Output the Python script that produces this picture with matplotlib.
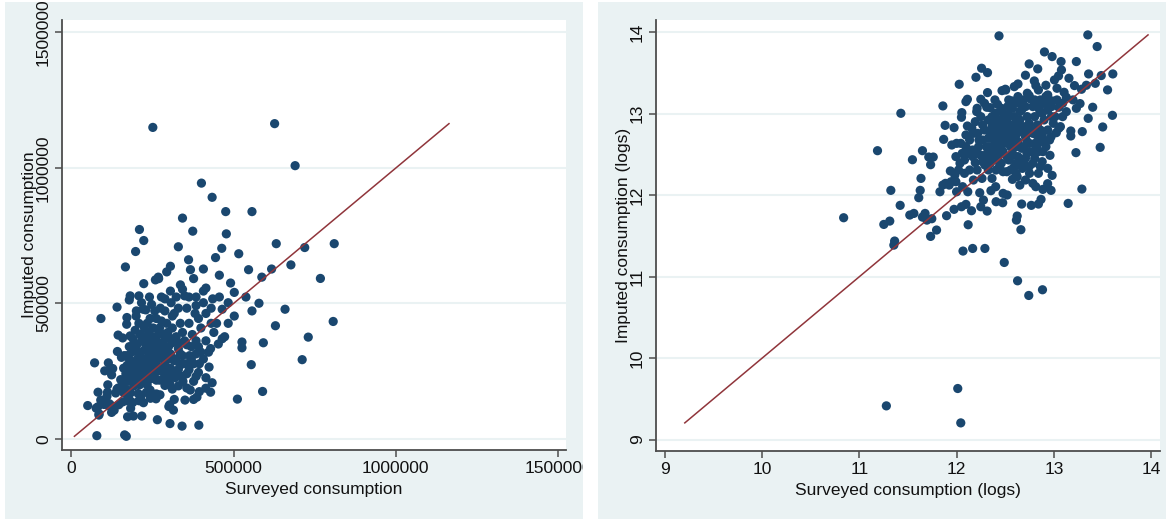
import numpy as np
import matplotlib
matplotlib.use("Agg")
import matplotlib.pyplot as plt
from matplotlib.patches import Rectangle

# ---- data (log values; left panel shows the levels) ----
log_surveyed = [
    10.838, 11.186, 11.426, 11.277, 12.011, 12.042, 12.435, 13.348, 13.444, 11.323,
    11.251, 11.312, 11.362, 11.354, 11.419, 11.545, 11.518, 11.560, 11.610, 11.625,
    11.633, 11.648, 11.648, 11.675, 11.694, 11.744, 11.713, 11.759, 11.732, 11.732,
    11.793, 11.828, 11.858, 11.881, 11.866, 11.896, 11.973, 11.973, 12.065, 12.164,
    12.290, 12.026, 12.198, 12.256, 12.317, 12.317, 12.489, 12.626, 12.741, 12.882,
    12.118, 12.095, 12.152, 12.660, 12.614, 12.622, 12.668, 12.767, 12.840, 12.867,
    13.146, 13.287, 12.970, 12.981, 12.935, 12.886, 13.226, 13.475, 13.501, 13.601,
    13.605, 13.551, 13.486, 13.425, 13.356, 13.230, 13.073, 12.981, 12.902, 12.745,
    12.833, 12.707, 12.630, 12.592, 12.500, 12.466, 12.393, 12.573, 12.745, 12.798,
    12.814, 13.077, 13.047, 13.005, 13.154, 13.211, 13.333, 13.283, 13.104, 13.031,
    12.936, 13.127, 13.196, 13.268, 13.398, 13.352, 13.291, 13.173, 13.173, 13.230,
    13.066, 13.024, 12.970, 12.959, 12.886, 12.860, 12.821, 12.779, 12.806, 12.722,
    12.691, 12.749, 12.676, 12.622, 12.573, 12.554, 12.458, 12.477, 12.405, 12.363,
    12.352, 12.405, 12.473, 12.477, 12.519, 12.313, 12.275, 12.248, 12.237, 12.260,
    12.290, 12.172, 12.114, 12.061, 12.080, 11.981, 11.992, 11.935, 11.942, 11.923,
    11.992, 12.034, 12.080, 12.118, 12.191, 12.133, 11.950, 11.999, 12.042, 12.095,
    12.110, 12.156, 12.049, 12.053, 12.095, 12.110, 12.217, 12.210, 12.309, 12.225,
    12.325, 12.244, 12.313, 12.344, 12.355, 12.420, 12.378, 12.435, 12.477, 12.535,
    12.508, 12.458, 12.439, 12.515, 12.592, 12.554, 12.603, 12.637, 12.668, 12.725,
    12.783, 12.852, 12.917, 12.974, 12.898, 12.829, 12.764, 12.707, 12.668, 12.630,
    12.573, 12.535, 12.477, 12.412, 12.393, 12.439, 12.325, 12.363, 12.248, 12.191,
    12.206, 12.523, 12.504, 12.637, 12.687, 12.764, 12.840, 12.917, 12.985, 13.050,
    13.127, 12.936, 12.879, 12.745, 12.802, 12.879, 12.955, 13.050, 12.611, 12.554,
    12.496, 12.363, 12.286, 12.267, 12.592, 12.649, 12.707, 12.783, 12.813, 12.401,
    12.325, 12.401, 12.210, 12.164, 12.164, 11.885, 11.858, 11.999, 12.049,
    12.439, 12.477, 12.401, 12.515, 12.554, 12.592, 12.649, 12.687, 12.611, 12.535,
    12.458, 12.382, 12.344, 12.305, 12.428, 12.515, 12.725, 12.783, 12.860, 12.745,
    12.802, 12.879, 12.936, 13.012, 12.993, 13.089, 12.917, 12.860, 12.707, 12.649,
    12.573, 12.458, 12.401, 12.286, 12.267, 12.229, 12.172, 12.095, 12.057, 12.019,
    12.133, 12.210, 12.267, 12.344, 12.439, 12.515, 12.611, 12.668, 12.745, 12.840,
    12.248, 12.344, 12.420, 12.535, 12.630, 12.726, 12.802, 12.860, 12.974, 13.031,
    13.089, 12.382, 12.458, 12.554, 12.630, 12.687, 12.745, 12.840, 12.917, 12.898,
    12.821, 12.707, 12.649, 12.573, 12.515, 12.477, 12.401, 12.363, 12.305, 12.554,
    12.611, 12.707, 12.783, 12.860, 12.936,
]
log_imputed = [
    11.723, 12.546, 13.005, 9.414, 9.627, 9.205, 13.955, 13.967, 13.824, 12.059,
    11.641, 11.682, 11.437, 11.387, 11.875, 12.435, 11.756, 11.776, 11.969, 12.059,
    12.206, 12.546, 11.731, 11.776, 11.694, 11.711, 12.468, 12.468, 12.374, 11.494,
    11.572, 12.042, 13.095, 12.857, 12.685, 11.748, 11.826, 12.829, 11.314, 11.346,
    11.346, 13.361, 13.447, 13.558, 13.504, 13.259, 11.174, 10.949, 10.769, 10.839,
    11.637, 11.887, 11.809, 11.576, 11.694, 11.744, 11.891, 11.875, 11.891, 11.948,
    11.899, 12.075, 12.059, 12.243, 12.141, 12.071, 12.522, 12.587, 12.837, 12.980,
    13.488, 13.292, 13.468, 13.373, 13.488, 13.640, 13.640, 13.701, 13.758, 13.611,
    13.550, 13.472, 13.365, 13.332, 13.300, 13.283, 13.169, 13.156, 13.222, 13.402,
    13.345, 13.537, 13.464, 13.414, 13.435, 13.345, 13.349, 13.300, 13.263, 13.312,
    13.230, 13.201, 13.169, 13.124, 13.079, 12.943, 12.780, 12.788, 12.726, 13.066,
    12.841, 12.767, 12.718, 12.489, 12.534, 12.657, 12.595, 12.534, 12.636, 12.513,
    12.391, 12.268, 12.329, 12.227, 12.194, 12.309, 12.391, 12.288, 12.309, 12.206,
    12.055, 11.920, 11.907, 12.022, 12.002, 11.805, 11.940, 11.858, 12.030, 12.206,
    12.370, 12.186, 12.042, 12.104, 12.268, 12.247, 12.473, 12.297, 12.165, 12.124,
    12.165, 12.391, 12.432, 12.513, 12.399, 12.677, 12.616, 12.636, 12.636, 12.739,
    12.849, 12.821, 12.956, 13.013, 13.148, 13.177, 12.759, 13.066, 13.079, 12.595,
    12.698, 12.493, 12.513, 12.595, 12.473, 12.513, 12.759, 12.841, 13.005, 12.984,
    12.890, 12.718, 12.636, 12.677, 12.677, 12.780, 12.882, 12.821, 13.046, 12.964,
    13.087, 13.046, 13.128, 12.964, 12.923, 12.862, 12.800, 12.718, 12.575, 12.473,
    12.513, 12.432, 12.534, 12.595, 12.657, 12.739, 12.923, 12.964, 12.964, 12.902,
    13.025, 13.087, 13.291, 13.128, 13.169, 13.177, 13.291, 13.210, 13.156, 13.079,
    13.025, 12.800, 12.739, 12.636, 12.452, 12.411, 12.677, 12.821, 12.595, 12.595,
    12.780, 12.841, 12.800, 12.677, 12.350, 12.124, 12.186, 12.145, 12.104, 12.104,
    12.309, 12.432, 12.513, 12.473, 12.554, 12.145, 12.124, 12.042, 11.858,
    12.923, 12.841, 12.780, 12.759, 12.862, 12.964, 12.923, 12.841, 12.739, 12.636,
    12.575, 12.534, 12.759, 12.595, 12.481, 12.473, 12.657, 12.759, 12.800, 12.882,
    12.964, 13.005, 13.046, 12.964, 12.882, 12.964, 13.349, 13.169, 13.087, 13.025,
    13.066, 13.066, 13.005, 13.128, 12.862, 12.677, 12.759, 12.595, 12.513, 12.309,
    12.309, 12.309, 12.411, 12.391, 12.350, 12.288, 12.268, 12.432, 12.350, 12.268,
    13.177, 13.074, 13.115, 13.169, 13.210, 13.251, 13.169, 13.107, 13.087, 13.169,
    13.128, 12.882, 12.800, 12.718, 12.657, 12.595, 12.534, 12.534, 12.595, 12.677,
    12.739, 12.780, 12.780, 12.821, 12.923, 12.636, 12.698, 12.513, 12.452, 12.473,
    12.391, 12.452, 12.391, 12.350, 12.329,
]

left_ticks = [0, 500000, 1000000, 1500000]
right_ticks = [9, 10, 11, 12, 13, 14]
left_xlabel = "Surveyed consumption"
left_ylabel = "Imputed consumption"
right_xlabel = "Surveyed consumption (logs)"
right_ylabel = "Imputed consumption (logs)"

surveyed = np.exp(np.array(log_surveyed))
imputed = np.exp(np.array(log_imputed))
lsx = np.array(log_surveyed)
lsy = np.array(log_imputed)

# ---- style ----
BG = "#eaf2f3"
DOT = "#1a476f"
LINE = "#90353b"
AXC = "#4d4d4d"
FONT = ["Liberation Sans Narrow", "Liberation Sans", "DejaVu Sans"]
plt.rcParams["font.family"] = FONT

W, H = 1166, 520
fig = plt.figure(figsize=(W / 100, H / 100), dpi=100)
fig.patch.set_facecolor("white")


def px_rect(x0, y0, x1, y1):
    return Rectangle((x0 / W, 1 - y1 / H), (x1 - x0) / W, (y1 - y0) / H,
                     transform=fig.transFigure, facecolor=BG,
                     edgecolor="none", zorder=-10)


r1 = px_rect(5, 2, 583, 519)
r2 = px_rect(598, 2, 1166, 519)
fig.patches.extend([r1, r2])


def ax_at(x0, y0, x1, y1):
    ax = fig.add_axes([x0 / W, 1 - y1 / H, (x1 - x0) / W, (y1 - y0) / H])
    ax.set_zorder(5)
    return ax


ax1 = ax_at(62, 20, 566, 450)
ax2 = ax_at(656, 20, 1160, 451)


def style(ax, ticks, xlabel, ylabel, clip):
    ax.set_facecolor("white")
    for s in ("top", "right"):
        ax.spines[s].set_visible(False)
    for s in ("left", "bottom"):
        ax.spines[s].set_color(AXC)
        ax.spines[s].set_linewidth(1.3)
    ax.set_xticks(ticks)
    ax.set_yticks(ticks)
    ax.set_xticklabels([str(t) for t in ticks])
    ax.set_yticklabels([str(t) for t in ticks], rotation=90, va="center")
    ax.tick_params(direction="out", length=5, width=1.1, color=AXC,
                   labelsize=12.5, labelcolor="#111111", pad=3)
    ax.yaxis.grid(True, color=BG, linewidth=1.5)
    ax.xaxis.grid(False)
    ax.set_axisbelow(True)
    ax.set_xlabel(xlabel, fontsize=12.5, labelpad=4, color="#111111")
    ax.set_ylabel(ylabel, fontsize=12.5, labelpad=-1, color="#111111")
    for lab in ax.get_xticklabels() + ax.get_yticklabels():
        lab.set_clip_path(clip)


# left panel (levels)
ax1.scatter(surveyed, imputed, s=44, color=DOT, edgecolors="none", zorder=3)
lo = min(surveyed.min(), imputed.min())
hi = max(surveyed.max(), imputed.max())
ax1.plot([lo, hi], [lo, hi], color=LINE, lw=1.1, zorder=4)
ax1.set_xlim(-28300, 1524000)
ax1.set_ylim(-40600, 1546000)
style(ax1, left_ticks, left_xlabel, left_ylabel, r1)

# right panel (logs)
ax2.scatter(lsx, lsy, s=44, color=DOT, edgecolors="none", zorder=3)
lo2 = min(lsx.min(), lsy.min())
hi2 = max(lsx.max(), lsy.max())
ax2.plot([lo2, hi2], [lo2, hi2], color=LINE, lw=1.1, zorder=4)
ax2.set_xlim(8.909, 14.09)
ax2.set_ylim(8.86, 14.15)
style(ax2, right_ticks, right_xlabel, right_ylabel, r2)

fig.savefig("out.png", dpi=100, facecolor=fig.get_facecolor())
